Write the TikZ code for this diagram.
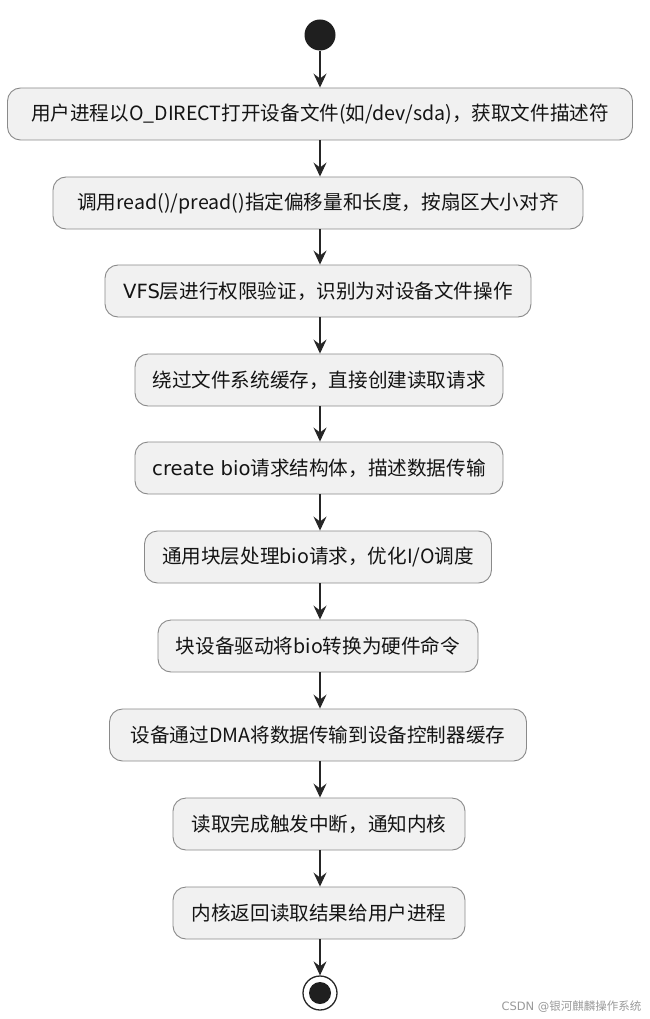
\documentclass[tikz,border=0pt]{standalone}
\usepackage{fontspec}
\setmainfont{DejaVu Sans}
\newfontfamily\cjk{Noto Sans CJK SC}
\usetikzlibrary{arrows.meta}
\definecolor{boxfill}{HTML}{F1F1F1}
\definecolor{boxline}{HTML}{8A8A8A}
\definecolor{wmark}{HTML}{9A9A9A}
\tikzset{
  actbox/.style={draw=boxline, fill=boxfill, line width=0.9pt, rounded corners=13pt,
    minimum height=52pt, inner sep=0pt, align=center,
    font=\fontsize{19.6}{23}\selectfont, text=black!92},
  flow/.style={draw=black!85, line width=1.1pt, -{Stealth[length=14pt,width=13pt,inset=5pt]}},
}
\begin{document}
\begin{tikzpicture}[x=1pt,y=-1pt]
\useasboundingbox (0,0) rectangle (649,1019);
\fill[white] (0,0) rectangle (649,1019);
\node[circle, fill=black!88, minimum size=31pt, inner sep=0pt] (start) at (320,35) {};
\node[actbox, minimum width=625pt] (n1) at (320,114) {\cjk{用户进程以}O\_DIRECT\cjk{打开设备文件}(\cjk{如}/dev/sda)\cjk{，获取文件描述符}};
\node[actbox, minimum width=530pt] (n2) at (318,203) {\cjk{调用}read()/pread()\cjk{指定偏移量和长度，按扇区大小对齐}};
\node[actbox, minimum width=426pt] (n3) at (318,291) {VFS\cjk{层进行权限验证，识别为对设备文件操作}};
\node[actbox, minimum width=368pt] (n4) at (319,380) {\cjk{绕过文件系统缓存，直接创建读取请求}};
\node[actbox, minimum width=368pt] (n5) at (319,468) {create bio\cjk{请求结构体，描述数据传输}};
\node[actbox, minimum width=347pt] (n6) at (318,557) {\cjk{通用块层处理}bio\cjk{请求，优化}I/O\cjk{调度}};
\node[actbox, minimum width=320pt] (n7) at (318,646) {\cjk{块设备驱动将}bio\cjk{转换为硬件命令}};
\node[actbox, minimum width=417pt] (n8) at (318,735) {\cjk{设备通过}DMA\cjk{将数据传输到设备控制器缓存}};
\node[actbox, minimum width=292pt] (n9) at (319,824) {\cjk{读取完成触发中断，通知内核}};
\node[actbox, minimum width=292pt] (n10) at (319,913) {\cjk{内核返回读取结果给用户进程}};
\node[circle, draw=black!85, line width=1.3pt, fill=white, minimum size=34pt, inner sep=0pt] (stop) at (320,993) {};
\fill[black!88] (stop.center) circle (11pt);
\draw[flow] (start) -- (n1);
\draw[flow] (n1) -- (n1.south |- n2.north);
\draw[flow] (n2.south -| n1.south) -- (n1.south |- n3.north);
\draw[flow] (n3.south -| n1.south) -- (n1.south |- n4.north);
\draw[flow] (n4.south -| n1.south) -- (n1.south |- n5.north);
\draw[flow] (n5.south -| n1.south) -- (n1.south |- n6.north);
\draw[flow] (n6.south -| n1.south) -- (n1.south |- n7.north);
\draw[flow] (n7.south -| n1.south) -- (n1.south |- n8.north);
\draw[flow] (n8.south -| n1.south) -- (n1.south |- n9.north);
\draw[flow] (n9.south -| n1.south) -- (n1.south |- n10.north);
\draw[flow] (n10.south -| n1.south) -- (stop);
\node[font=\fontsize{11.5}{13}\selectfont, text=wmark, anchor=east] (wm) at (645,1007) {CSDN @\cjk{银河麒麟操作系统}};
\end{tikzpicture}
\end{document}
